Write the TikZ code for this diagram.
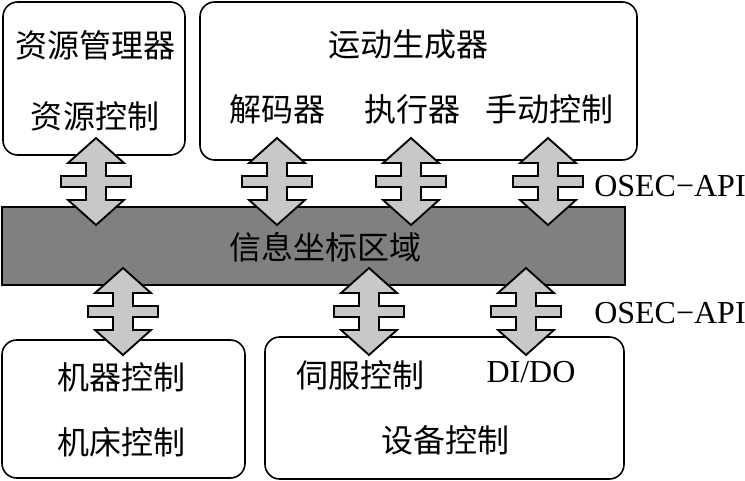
\documentclass[tikz,border=0pt]{standalone}
\usepackage{fontspec}
\setmainfont{Liberation Serif}
\newfontfamily\cjk{Noto Sans CJK SC}
\tikzset{
  box/.style={draw, line width=1.2pt, rounded corners=11pt, inner sep=0pt},
  lbl/.style={inner sep=0.75pt, font=\cjk\fontsize{24}{28}\selectfont},
  api/.style={inner sep=0.75pt, anchor=west, font=\fontsize{24}{28}\selectfont},
  arrowfill/.style={draw, line width=1.4pt, fill={rgb,255:red,200;green,200;blue,200}, line join=miter},
  dblarrow/.pic={
    \draw[arrowfill] (0,-43.5) -- (28,-18.5) -- (10,-18.5) -- (10,-5.5) -- (35,-5.5) -- (35,5.5)
      -- (10,5.5) -- (10,18.5) -- (28,18.5) -- (0,43.5) -- (-28,18.5) -- (-10,18.5) -- (-10,5.5)
      -- (-35,5.5) -- (-35,-5.5) -- (-10,-5.5) -- (-10,-18.5) -- (-28,-18.5) -- cycle;
  }
}
\begin{document}
\begin{tikzpicture}[x=0.75pt,y=0.75pt,yscale=-1,xscale=1]
\useasboundingbox (0,0) rectangle (745,481);

% Boxes
\node[box, minimum width=136.5pt, minimum height=114.75pt] (resmgr) at (94,78.5) {};
\node[box, minimum width=327.75pt, minimum height=118.5pt] (motion) at (418.5,81) {};
\node[draw, line width=1.2pt, fill={rgb,255:red,128;green,128;blue,128}, inner sep=0pt,
      minimum width=467.25pt, minimum height=58.5pt] (band) at (313.5,246) {};
\node[box, minimum width=182.25pt, minimum height=103.5pt] (machine) at (123.5,409) {};
\node[box, minimum width=269.25pt, minimum height=106.5pt] (device) at (444.5,408) {};

% Arrows upper
\pic at (96,181.5) {dblarrow};
\pic at (277,181.5) {dblarrow};
\pic at (411,181.5) {dblarrow};
\pic at (548,181.5) {dblarrow};
% Arrows lower
\pic at (123,311.5) {dblarrow};
\pic at (369,311.5) {dblarrow};
\pic at (526,311.5) {dblarrow};

% Text Node
\node[lbl] (resmgrT) at (95,45) {资源管理器};
\node[lbl] (resctl) at (95,116) {资源控制};
% Text Node
\node[lbl] (motionT) at (408,44) {运动生成器};
\node[lbl] (decoder) at (277,109) {解码器};
\node[lbl] (executor) at (412,109) {执行器};
\node[lbl] (manual) at (549,109) {手动控制};
% Text Node
\node[lbl] (bandT) at (325,247) {信息坐标区域};
% Text Node
\node[api] (api1) at (593,186) {OSEC−API};
\node[api] (api2) at (593,313) {OSEC−API};
% Text Node
\node[lbl] (machctl) at (121,377) {机器控制};
\node[lbl] (toolctl) at (121,442) {机床控制};
% Text Node
\node[lbl] (servo) at (360,375) {伺服控制};
\node[api, anchor=center] (dido) at (531,372) {DI/DO};
\node[lbl] (devctl) at (445,440) {设备控制};
\end{tikzpicture}
\end{document}
